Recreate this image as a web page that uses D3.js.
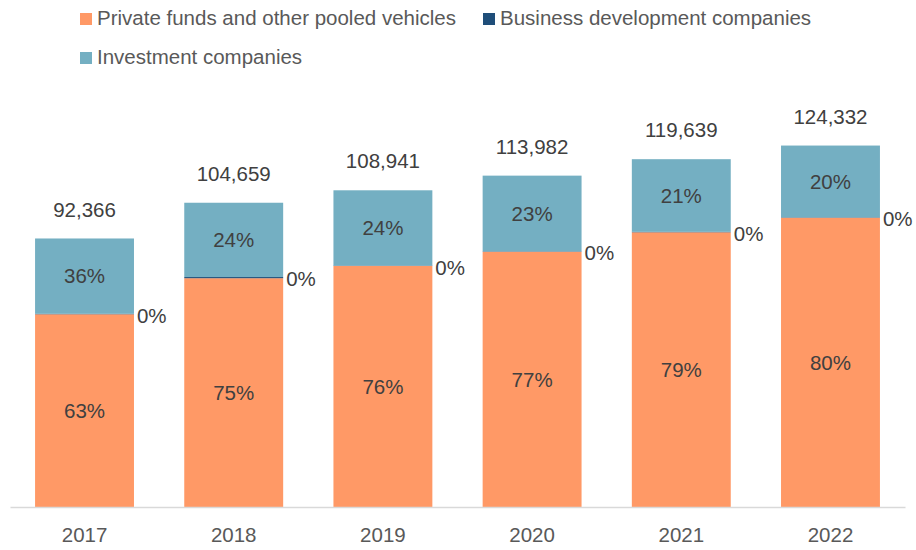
<!DOCTYPE html>
<html>
<head>
<meta charset="utf-8">
<script src="https://cdn.jsdelivr.net/npm/d3@7"></script>
<style>
  body { margin: 0; background: #fff; }
  text { font-family: "Liberation Sans", Arial, sans-serif; }
</style>
</head>
<body>
<div id="chart"></div>
<script>
// Values
const years = ["2017", "2018", "2019", "2020", "2021", "2022"];
const totals = [92366, 104659, 108941, 113982, 119639, 124332];
const privateFunds = [66300, 78700, 82900, 87800, 94500, 99500];
const bdcs = [150, 400, 150, 150, 150, 150];
const investmentCos = [25916, 25559, 25891, 26032, 24989, 24682];

// Percent labels as printed
const privateLabels = ["63%", "75%", "76%", "77%", "79%", "80%"];
const bdcLabels = ["0%", "0%", "0%", "0%", "0%", "0%"];
const investLabels = ["36%", "24%", "24%", "23%", "21%", "20%"];

const seriesNames = ["Private funds and other pooled vehicles", "Business development companies", "Investment companies"];
const colors = ["#FF9966", "#1F4E79", "#74AFC2"];

const width = 916, height = 550;
const margins = {top: 100, right: 11, bottom: 43, left: 10};
const fontSize = 20.5;

const svg = d3.select("#chart")
  .append("svg")
    .attr("width", width)
    .attr("height", height)
    .attr("viewBox", [0, 0, width, height]);

const data = years.map((y, i) => ({
  year: y,
  p: privateFunds[i],
  b: bdcs[i],
  ic: investmentCos[i],
  total: totals[i]
}));

const xScale = d3.scaleBand()
  .domain(years)
  .range([margins.left, width - margins.right])
  .paddingInner(0.337)
  .paddingOuter(0.168);

const yScale = d3.scaleLinear()
  .domain([0, 140000])
  .range([height - margins.bottom, margins.top]);

const stacked = d3.stack().keys(["p", "b", "ic"])(data);

// bars
svg.append("g")
  .attr("class", "bars")
  .selectAll("g")
  .data(stacked)
  .join("g")
    .attr("fill", (d, i) => colors[i])
  .selectAll("rect")
  .data(d => d)
  .join("rect")
    .attr("x", d => xScale(d.data.year))
    .attr("y", d => yScale(d[1]))
    .attr("width", xScale.bandwidth())
    .attr("height", d => yScale(d[0]) - yScale(d[1]));

// x axis
const xAxis = svg.append("g")
  .attr("transform", `translate(0,${yScale(0)})`)
  .call(d3.axisBottom(xScale).tickSize(0).tickPadding(20));
xAxis.select(".domain").attr("stroke", "#d9d9d9").attr("stroke-width", 1.5);
xAxis.selectAll("text")
  .attr("font-size", fontSize)
  .attr("fill", "#595959")
  .style("font-family", "'Liberation Sans', Arial, sans-serif");

// labels inside segments
const labels = svg.append("g").attr("font-size", fontSize).attr("fill", "#404040");

labels.selectAll(".lp")
  .data(data)
  .join("text")
    .attr("x", d => xScale(d.year) + xScale.bandwidth() / 2)
    .attr("y", d => yScale(d.p / 2))
    .attr("dy", "0.35em")
    .attr("text-anchor", "middle")
    .text((d, i) => privateLabels[i]);

labels.selectAll(".li")
  .data(data)
  .join("text")
    .attr("x", d => xScale(d.year) + xScale.bandwidth() / 2)
    .attr("y", d => yScale(d.p + d.b + d.ic / 2))
    .attr("dy", "0.35em")
    .attr("text-anchor", "middle")
    .text((d, i) => investLabels[i]);

labels.selectAll(".lb")
  .data(data)
  .join("text")
    .attr("x", d => xScale(d.year) + xScale.bandwidth() + 3)
    .attr("y", d => yScale(d.p + d.b) + 2)
    .attr("dy", "0.35em")
    .text((d, i) => bdcLabels[i]);

labels.selectAll(".lt")
  .data(data)
  .join("text")
    .attr("x", d => xScale(d.year) + xScale.bandwidth() / 2)
    .attr("y", d => yScale(d.total) - 29)
    .attr("dy", "0.35em")
    .attr("text-anchor", "middle")
    .text(d => d3.format(",")(d.total));

// legend
const legendPos = [[80, 18], [483, 18], [80, 57]];
const legend = svg.append("g")
  .selectAll("g")
  .data(seriesNames)
  .join("g")
    .attr("transform", (d, i) => `translate(${legendPos[i][0]},${legendPos[i][1]})`);

legend.append("rect")
  .attr("x", 0)
  .attr("y", -5)
  .attr("width", 12)
  .attr("height", 12)
  .attr("fill", (d, i) => colors[i]);

legend.append("text")
  .attr("x", 17)
  .attr("dy", "0.35em")
  .attr("font-size", fontSize)
  .attr("fill", "#595959")
  .text(d => d);
</script>
</body>
</html>
